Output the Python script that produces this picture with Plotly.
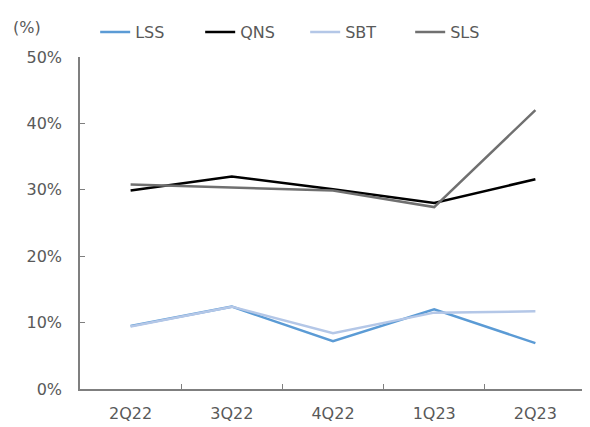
import plotly.graph_objects as go

categories = ["2Q22", "3Q22", "4Q22", "1Q23", "2Q23"]
lss = [9.5, 12.4, 7.2, 12.0, 6.9]
qns = [29.9, 32.0, 30.1, 28.0, 31.6]
sbt = [9.4, 12.4, 8.4, 11.5, 11.7]
sls = [30.8, 30.3, 29.9, 27.4, 42.0]
y_ticks = [0, 10, 20, 30, 40, 50]

series = [
    ("LSS", lss, "#5B9BD5"),
    ("QNS", qns, "#000000"),
    ("SBT", sbt, "#B4C7E7"),
    ("SLS", sls, "#707070"),
]

FONT = "DejaVu Sans"
TXT = "#595959"
FS = 16

fig = go.Figure()
for name, vals, color in series:
    fig.add_trace(go.Scatter(
        x=categories, y=vals, name=name, mode="lines",
        line=dict(color=color, width=2.5),
    ))

# page body has an 8px default margin, so the figure is sized/margined to compensate
fig.update_layout(
    width=582, height=419,
    margin=dict(l=72, r=4, t=49, b=35),
    paper_bgcolor="white", plot_bgcolor="white",
    font=dict(family=FONT, size=FS, color=TXT),
    showlegend=True,
    legend=dict(
        orientation="h", x=0.03, xanchor="left", y=1.075, yanchor="middle",
        font=dict(family=FONT, size=FS, color=TXT),
        entrywidth=60, entrywidthmode="pixels",
        bgcolor="rgba(0,0,0,0)",
    ),
    annotations=[dict(
        text="(%)", xref="paper", yref="paper", x=-0.137, y=1.09,
        xanchor="left", yanchor="middle", showarrow=False,
        font=dict(family=FONT, size=FS, color=TXT),
    )],
)
fig.update_xaxes(
    type="category", range=[-0.5, 4.5],
    showline=True, linecolor="#7F7F7F", linewidth=1.5,
    ticks="inside", tickson="boundaries", ticklen=5, tickcolor="#7F7F7F",
    showgrid=False, zeroline=False, ticklabelstandoff=9,
    tickfont=dict(family=FONT, size=FS, color=TXT),
)
fig.update_yaxes(
    range=[0, 50], tickvals=y_ticks, ticktext=[f"{v}%" for v in y_ticks],
    showline=True, linecolor="#7F7F7F", linewidth=1.5,
    ticks="inside", ticklen=5, tickcolor="#7F7F7F",
    showgrid=False, zeroline=False, ticklabelstandoff=13,
    tickfont=dict(family=FONT, size=FS, color=TXT),
)

fig.write_html("out.html")
